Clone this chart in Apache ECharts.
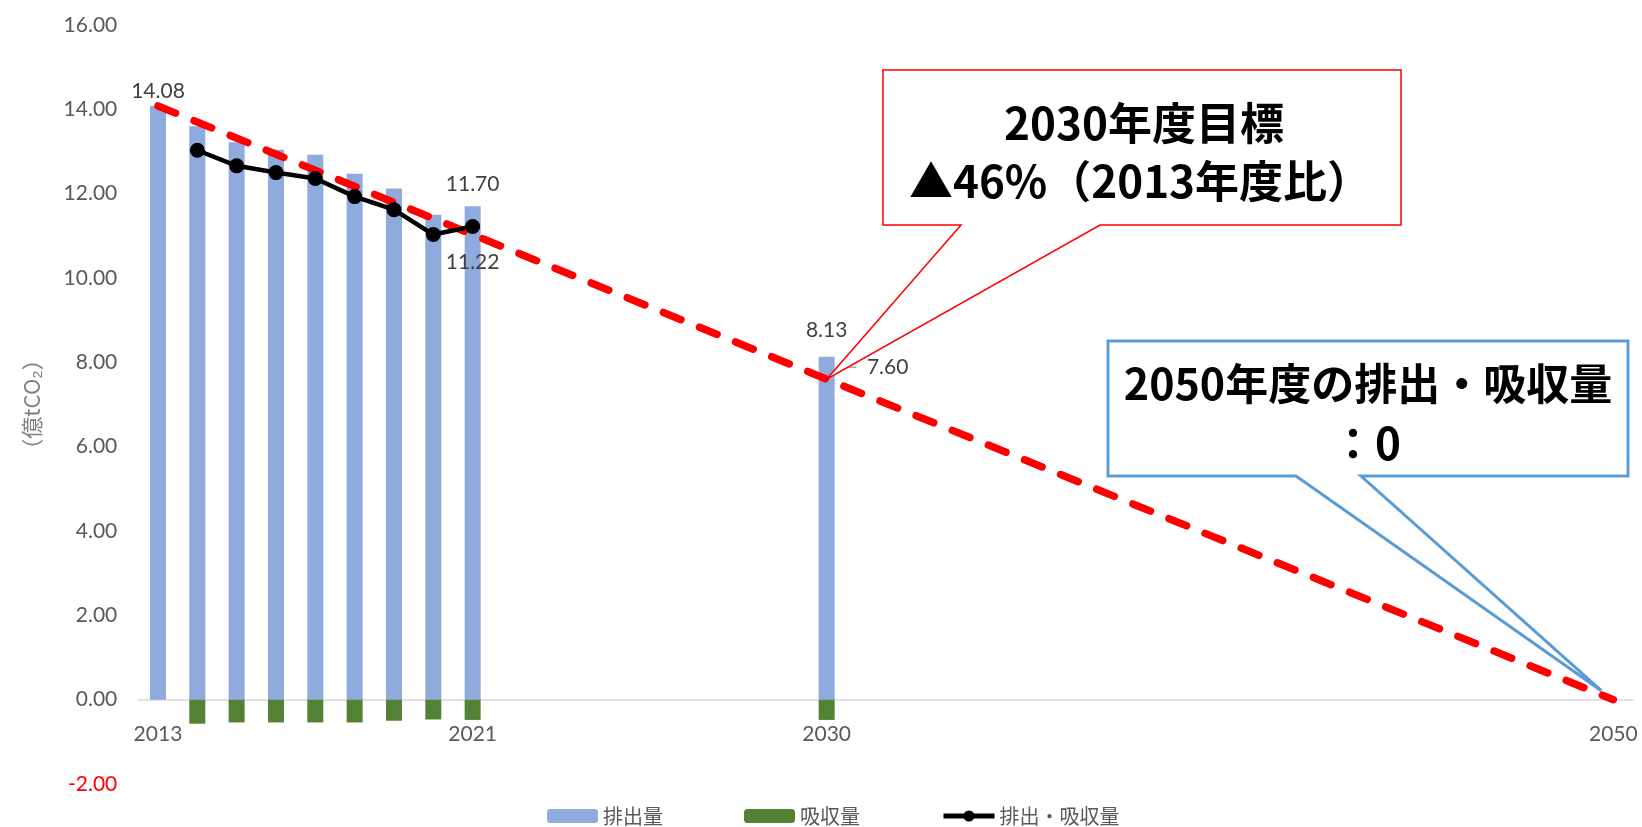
<!DOCTYPE html>
<html>
<head>
<meta charset="utf-8">
<script src="https://cdn.jsdelivr.net/npm/echarts@6/dist/echarts.min.js"></script>
<style>
html,body{margin:0;padding:0;background:#fff;}
#chart{width:1642px;height:827px;}
</style>
</head>
<body>
<div id="chart"></div>
<script>
// ---- data ----
const firstYear = 2013, lastYear = 2050;
const shownYearLabels = ['2013', '2021', '2030', '2050'];

const emissionYears = [2013, 2014, 2015, 2016, 2017, 2018, 2019, 2020, 2021, 2030];
const emissions     = [14.08, 13.60, 13.22, 13.04, 12.92, 12.47, 12.12, 11.50, 11.70, 8.13];

const removalYears  = [2014, 2015, 2016, 2017, 2018, 2019, 2020, 2021, 2030];
const removals      = [-0.57, -0.54, -0.54, -0.54, -0.54, -0.50, -0.47, -0.48, -0.48];

const netYears      = [2014, 2015, 2016, 2017, 2018, 2019, 2020, 2021];
const netValues     = [13.03, 12.66, 12.50, 12.36, 11.93, 11.62, 11.03, 11.22];

const pathYears     = [2013, 2030, 2050];
const pathValues    = [14.08, 7.60, 0];

const emissionLabelYears = [2013, 2021, 2030];
const netLabelYears = [2021];
const pathLabelYears = [2030];

const yTicks = {min: -2, max: 16, interval: 2};

// ---- build ----
const years = [];
for (let y = firstYear; y <= lastYear; y++) years.push(String(y));

function place(ys, vals, labelYears, labelCfg) {
  const out = years.map(() => null);
  ys.forEach((y, i) => {
    const idx = years.indexOf(String(y));
    const item = {value: vals[i]};
    if (labelYears && labelYears.includes(y)) item.label = Object.assign({show: true}, labelCfg || {});
    out[idx] = item;
  });
  return out;
}

const numFont = 'Lato, "Noto Sans", sans-serif';
const labelFont = {fontFamily: numFont, fontSize: 21, color: '#404040'};
const emissionLabelDist = {2013: 4, 2021: 12, 2030: 16};
const fmt2 = p => Number(p.value).toFixed(2);

const emissionData = place(emissionYears, emissions, emissionLabelYears, {formatter: fmt2}).map((d, i) => {
  if (d && d.label) d.label.distance = emissionLabelDist[Number(years[i])];
  return d;
});

const W = 1642, H = 827;
const grid = {left: 138.3, right: 9, top: 25, bottom: 43};
const plotH = H - grid.top - grid.bottom;
const zeroOffset = -plotH * (0 - yTicks.min) / (yTicks.max - yTicks.min);

const chart = echarts.init(document.getElementById('chart'));

const option = {
  backgroundColor: '#fff',
  animation: false,
  grid: grid,
  legend: {
    data: [
      {name: '排出量'},
      {name: '吸収量'},
      {name: '排出・吸収量', lineStyle: {width: 5, color: '#000'}, itemStyle: {color: '#000'}}
    ],
    left: 542, top: 801,
    itemWidth: 51, itemHeight: 14, itemGap: 81,
    textStyle: {fontFamily: '"Noto Sans CJK JP", sans-serif', fontSize: 20, color: '#595959'}
  },
  xAxis: {
    type: 'category',
    data: years,
    boundaryGap: true,
    offset: zeroOffset,
    axisTick: {show: false},
    axisLine: {onZero: false, lineStyle: {color: '#d9d9d9', width: 1.5}},
    axisLabel: {
      interval: (idx, val) => shownYearLabels.includes(val),
      margin: 24,
      fontFamily: numFont, fontSize: 21, color: '#595959'
    },
    splitLine: {show: false}
  },
  yAxis: {
    type: 'value',
    min: yTicks.min, max: yTicks.max, interval: yTicks.interval,
    name: '（億tCO₂）',
    nameLocation: 'middle',
    nameRotate: 90,
    nameGap: 96,
    nameTextStyle: {fontFamily: '"Noto Sans CJK JP", sans-serif', fontSize: 22, color: '#7f7f7f'},
    axisLine: {show: false},
    axisTick: {show: false},
    splitLine: {show: false},
    axisLabel: {
      margin: 21,
      formatter: v => v < 0 ? '{neg|' + v.toFixed(2) + '}' : '{pos|' + v.toFixed(2) + '}',
      rich: {
        pos: {fontFamily: numFont, fontSize: 21, color: '#595959'},
        neg: {fontFamily: numFont, fontSize: 21, color: '#ff0000'}
      }
    }
  },
  series: [
    {
      name: '排出量', type: 'bar', stack: 'total', barWidth: 16,
      itemStyle: {color: '#8faadc'},
      label: Object.assign({show: false, position: 'top'}, labelFont),
      data: emissionData
    },
    {
      name: '吸収量', type: 'bar', stack: 'total', barWidth: 16,
      itemStyle: {color: '#548235'},
      data: place(removalYears, removals)
    },
    {
      name: '2050path', type: 'line', connectNulls: true,
      symbol: 'circle', symbolSize: 1, showSymbol: true,
      itemStyle: {color: 'rgba(0,0,0,0)'},
      lineStyle: {color: '#ff0000', width: 7.5, type: [19, 20], cap: 'round'},
      label: Object.assign({show: false, position: 'right', offset: [8, -12],
        formatter: p => '{ln|}  ' + Number(p.value).toFixed(2),
        rich: {ln: {width: 16, height: 1.5, backgroundColor: '#a6a6a6'}}
      }, labelFont),
      data: place(pathYears, pathValues, pathLabelYears),
      z: 3
    },
    {
      name: '排出・吸収量', type: 'line',
      symbol: 'circle', symbolSize: 15,
      itemStyle: {color: '#000'},
      lineStyle: {color: '#000', width: 4.5},
      label: Object.assign({show: false, position: 'bottom', distance: 18}, labelFont),
      data: place(netYears, netValues, netLabelYears, {formatter: fmt2}),
      z: 4
    }
  ]
};
chart.setOption(option);

// ---- callouts (annotation layout) ----
const tip2030 = chart.convertToPixel({seriesIndex: 2}, ['2030', 7.60]);
const tip2050 = chart.convertToPixel({seriesIndex: 2}, ['2050', 0]);

const redBox = {l: 883, t: 70, r: 1401, b: 225, tl: 961, tr: 1100};
const blueBox = {l: 1108, t: 341, r: 1628, b: 476, tl: 1296, tr: 1361};

function callout(box, tip) {
  return [[box.l, box.t], [box.r, box.t], [box.r, box.b], [box.tr, box.b], tip, [box.tl, box.b], [box.l, box.b]];
}
const boxFont = 'bold 44px "Noto Sans CJK JP", sans-serif';

chart.setOption({
  graphic: [
    {type: 'polygon', z: 100, shape: {points: callout(redBox, [tip2030[0], tip2030[1]])},
     style: {fill: '#fff', stroke: '#ff0000', lineWidth: 1.5}},
    {type: 'text', z: 101, x: 1144, y: 123,
     style: {text: '2030年度目標', font: boxFont, fill: '#000', align: 'center', verticalAlign: 'middle'}},
    {type: 'text', z: 101, x: 1140, y: 181,
     style: {text: '▲46%（2013年度比）', font: boxFont, fill: '#000', align: 'center', verticalAlign: 'middle'}},
    {type: 'polygon', z: 100, shape: {points: callout(blueBox, [tip2050[0] - 12, tip2050[1] - 9])},
     style: {fill: '#fff', stroke: '#5b9bd5', lineWidth: 3}},
    {type: 'text', z: 101, x: 1368, y: 384,
     style: {text: '2050年度の排出・吸収量', font: 'bold 43px "Noto Sans CJK JP", sans-serif', fill: '#000', align: 'center', verticalAlign: 'middle'}},
    {type: 'text', z: 101, x: 1366, y: 443,
     style: {text: '：0', font: boxFont, fill: '#000', align: 'center', verticalAlign: 'middle'}}
  ]
});
</script>
</body>
</html>
